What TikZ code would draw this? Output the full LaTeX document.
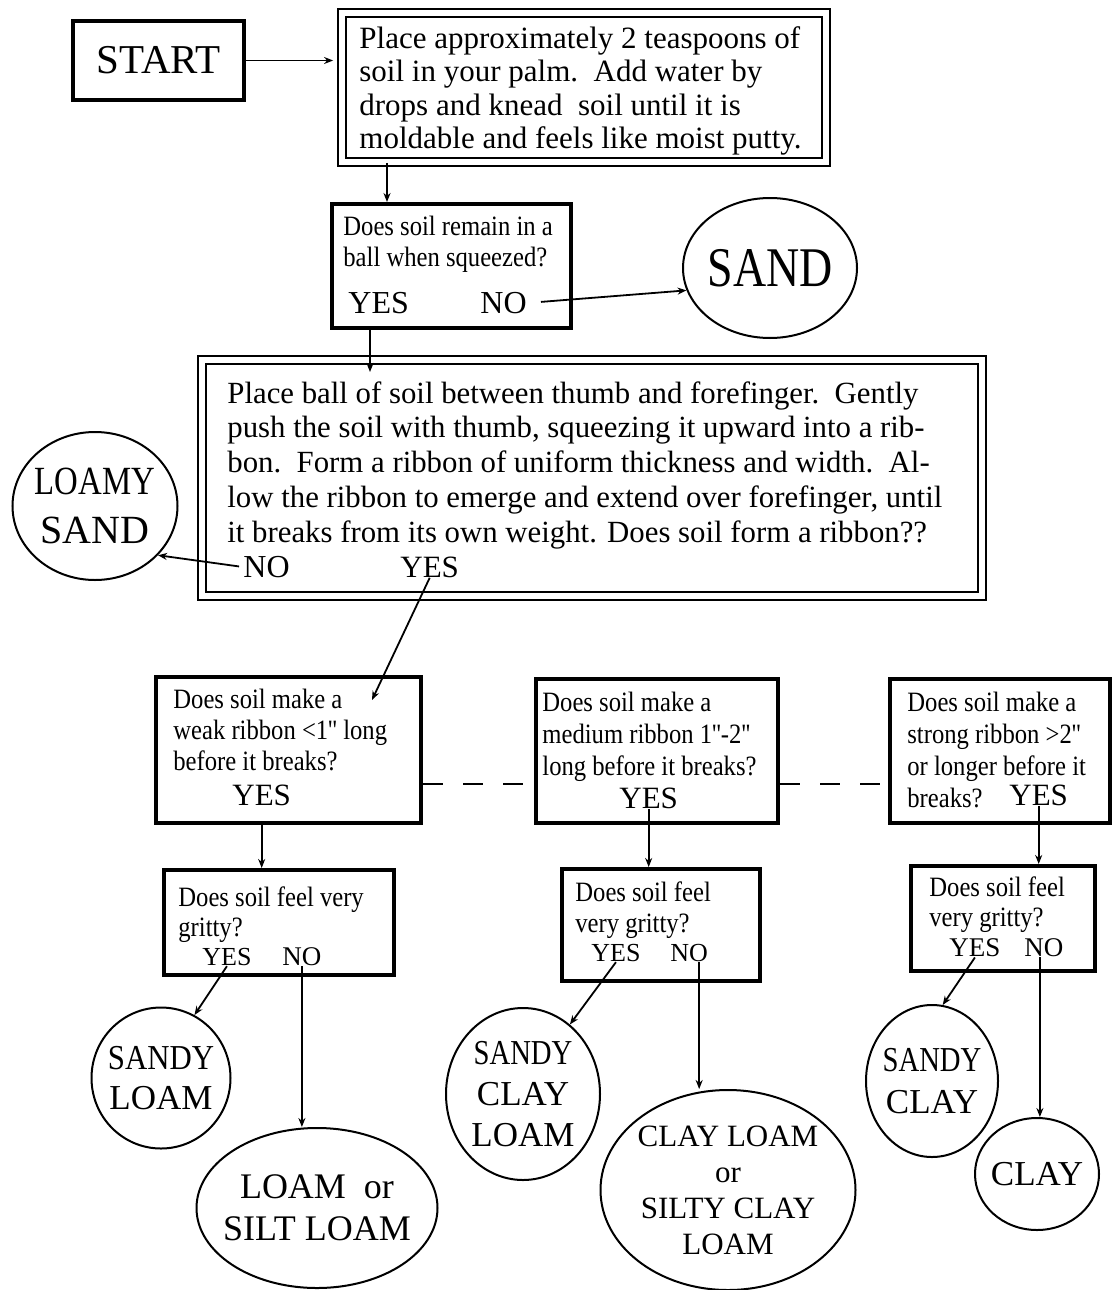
\documentclass[tikz,border=0pt]{standalone}
\usepackage{fontspec}
\setmainfont{Liberation Serif}
\newfontfamily\narrowrm[FakeStretch=0.88]{Liberation Serif}
\newfontfamily\squeezerm[FakeStretch=0.82]{Liberation Serif}
\usetikzlibrary{arrows.meta,fit,shapes.geometric}

\begin{document}
\begin{tikzpicture}[x=0.5pt,y=-0.5pt,
  box/.style={draw, line width=2pt, inner sep=0pt},
  dblbox/.style={draw, double, line width=0.9pt, double distance=3pt, inner sep=0pt},
  soil/.style={draw, ellipse, line width=1pt, inner sep=0pt},
  tag/.style={align=center, inner sep=0pt},
  txt/.style={anchor=north west, inner sep=0pt, align=left},
  ans/.style={anchor=west, inner sep=0pt},
  arr/.style={-{Stealth[length=4.5pt,width=3.5pt]}, line width=0.9pt}]
\useasboundingbox (0,0) rectangle (1115,1290);

\node[box, minimum width=85.5pt, minimum height=39.5pt,
  font=\fontsize{20.5}{24}\selectfont] (start) at (158.5,60.5) {START};

\node[dblbox, fit={(342,13) (826,162)}] (place) {};
\node[txt, font=\fontsize{15.5}{16.7}\selectfont] (placetxt) at (359,26)
  {Place approximately 2 teaspoons of\\ soil in your palm.\ \ Add water by\\
   drops and knead\ \ soil until it is\\ moldable and feels like moist putty.};

\node[box, fit={(332,204) (571,328)}] (ball) {};
\node[txt, font=\fontsize{14}{15.5}\narrowrm] (balltxt) at (343,216)
  {Does soil remain in a\\ ball when squeezed?};
\node[ans, font=\fontsize{16}{18}\selectfont] (yes2) at (348,303) {YES};
\node[ans, font=\fontsize{16}{18}\selectfont] (no2) at (480,303) {NO};

\node[soil, minimum width=87pt, minimum height=70pt,
  label={[tag, name=sandtxt, font=\fontsize{28}{30}\squeezerm]center:SAND}] (sand) at (770,268) {};

\node[dblbox, fit={(202,360) (982,596)}] (rib) {};
\node[txt, font=\fontsize{15.4}{17.4}\selectfont] (ribtxt) at (227,381)
  {Place ball of soil between thumb and forefinger.\ \ Gently\\
   push the soil with thumb, squeezing it upward into a rib-\\
   bon.\ \ Form a ribbon of uniform thickness and width.\ \ Al-\\
   low the ribbon to emerge and extend over forefinger, until\\
   it breaks from its own weight. Does soil form a ribbon??};
\node[ans, font=\fontsize{16}{18}\selectfont] (no3) at (243,567) {NO};
\node[ans, font=\fontsize{15.5}{18}\selectfont] (yes3) at (400,567) {YES};

\node[soil, minimum width=82.5pt, minimum height=74pt,
  label={[tag, name=lsandtxt, font=\fontsize{20}{24.5}\selectfont]center:{{\squeezerm LOAMY}\\ SAND}}] (lsand) at (95,506) {};

\node[box, fit={(156,677) (421,823)}] (weak) {};
\node[txt, font=\fontsize{14}{15.5}\narrowrm] (weaktxt) at (173,689)
  {Does soil make a\\ weak ribbon <1'' long\\ before it breaks?};
\node[ans, font=\fontsize{15.5}{18}\selectfont] (yes4) at (232,795) {YES};

\node[box, fit={(536,679) (778,823)}] (medium) {};
\node[txt, font=\fontsize{14}{16}\narrowrm] (mediumtxt) at (542,692)
  {Does soil make a\\ medium ribbon 1''-2''\\ long before it breaks?};
\node[ans, font=\fontsize{15.5}{18}\selectfont] (yes5) at (619,798) {YES};

\node[box, fit={(890,679) (1110,823)}] (strong) {};
\node[txt, font=\fontsize{14}{16}\narrowrm] (strongtxt) at (907,692)
  {Does soil make a\\ strong ribbon >2''\\ or longer before it\\ breaks?};
\node[ans, font=\fontsize{15.5}{18}\selectfont] (yes6) at (1009,795) {YES};

\coordinate (dash) at (0,784);
\draw[line width=1pt, dash pattern=on 10pt off 10pt] (weak.east |- dash) -- (medium.west |- dash);
\draw[line width=1pt, dash pattern=on 10pt off 10pt] (medium.east |- dash) -- (strong.west |- dash);

\node[box, fit={(164,870) (394,975)}] (grit1) {};
\node[txt, font=\fontsize{14}{15}\narrowrm] (grit1txt) at (178,886)
  {Does soil feel very\\ gritty?};
\node[ans, font=\fontsize{13}{15}\selectfont] (yes7) at (202,957) {YES};
\node[ans, font=\fontsize{13.5}{15}\selectfont] (no7) at (282,957) {NO};

\node[box, fit={(562,869) (760,981)}] (grit2) {};
\node[txt, font=\fontsize{14}{15.5}\narrowrm] (grit2txt) at (575,881)
  {Does soil feel\\ very gritty?};
\node[ans, font=\fontsize{13}{15}\selectfont] (yes8) at (591,953) {YES};
\node[ans, font=\fontsize{13}{15}\selectfont] (no8) at (670,953) {NO};

\node[box, fit={(911,866) (1095,971)}] (grit3) {};
\node[txt, font=\fontsize{14}{15}\narrowrm] (grit3txt) at (929,876)
  {Does soil feel\\ very gritty?};
\node[ans, font=\fontsize{13.5}{15}\selectfont] (yes9) at (949,948) {YES};
\node[ans, font=\fontsize{13.5}{15}\selectfont] (no9) at (1024,948) {NO};

\node[soil, minimum width=69.5pt, minimum height=70.5pt,
  label={[tag, name=sloamtxt, font=\fontsize{17.5}{20}\selectfont]center:{{\narrowrm SANDY}\\ LOAM}}] (sloam) at (161,1078) {};
\node[soil, minimum width=120.5pt, minimum height=80pt,
  label={[tag, name=lsilttxt, font=\fontsize{18}{21}\selectfont]center:{LOAM\ \ or\\ SILT LOAM}}] (lsilt) at (317,1208) {};
\node[soil, minimum width=77pt, minimum height=86pt,
  label={[tag, name=scloamtxt, font=\fontsize{17.5}{20.5}\selectfont]center:{{\squeezerm SANDY}\\ CLAY\\ LOAM}}] (scloam) at (523,1094) {};
\node[soil, minimum width=127.5pt, minimum height=100pt,
  label={[tag, name=cloamtxt, font=\fontsize{15.5}{18}\selectfont]center:{CLAY LOAM\\ or\\ SILTY CLAY\\ LOAM}}] (cloam) at (728,1190) {};
\node[soil, minimum width=66pt, minimum height=76pt,
  label={[tag, name=sclaytxt, font=\fontsize{17.5}{21}\selectfont]center:{{\squeezerm SANDY}\\ CLAY}}] (sclay) at (932,1081) {};
\node[soil, minimum width=62pt, minimum height=56pt,
  label={[tag, name=claytxt, font=\fontsize{17.5}{20}\selectfont]center:CLAY}] (clay) at (1037,1174) {};

\coordinate (drop) at (387,0);
\coordinate (ribtip) at (370,372);
\coordinate (wktip) at (372,700);
\draw[arr, shorten >=4pt] (start.east) -- (place.west |- start);
\draw[arr] (place.south -| drop) -- (ball.north -| drop);
\draw[arr, shorten <=7pt] (no2.east) -- (sand.195);
\draw[arr] (ball.south -| ribtip) -- (ribtip);
\draw[arr, shorten <=2pt] (no3.west) -- (lsand.-38);
\draw[arr] (yes3.south) -- (wktip);
\draw[arr] (weak.south -| yes4) -- (grit1.north -| yes4);
\draw[arr] (yes5.south) -- (grit2.north -| yes5);
\draw[arr] (yes6.south) -- (grit3.north -| yes6);
\draw[arr] (yes7.south) -- (sloam.62);
\draw[arr] (no7.south) -- (no7.south |- lsilt.north);
\draw[arr] (yes8.south) -- (scloam.56);
\draw[arr] ([xshift=5pt]no8.south) -- ([xshift=5pt]no8.south |- cloam.north);
\draw[arr] (yes9.south) -- (sclay.82);
\draw[arr] ([xshift=-2pt]no9.south) -- ([xshift=-2pt]no9.south |- clay.north);
\end{tikzpicture}
\end{document}
